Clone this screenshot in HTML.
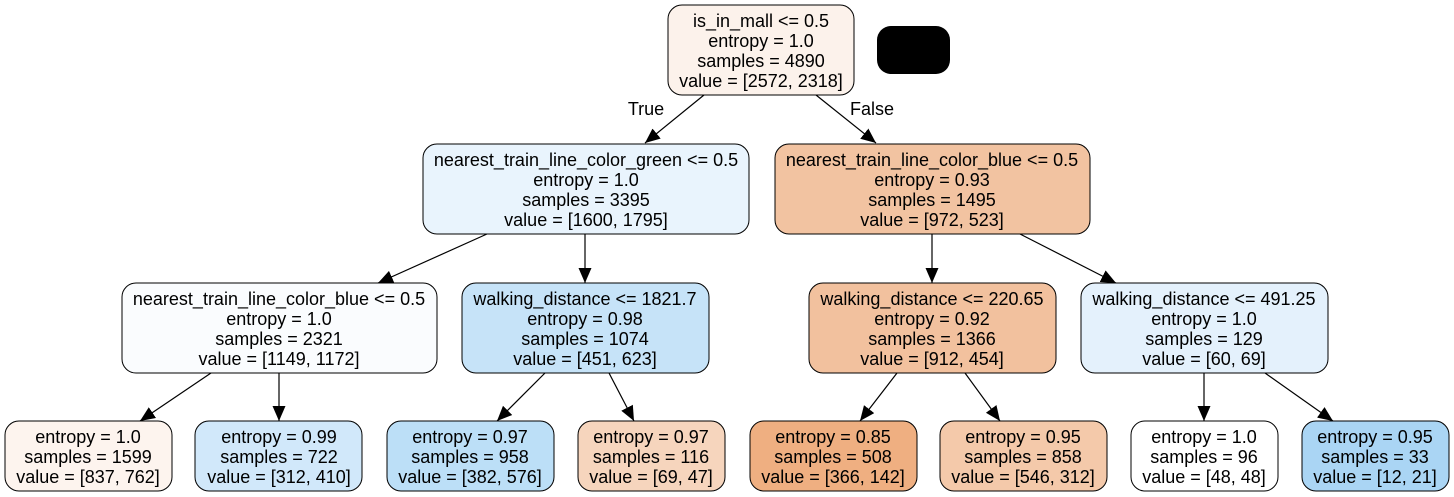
<!DOCTYPE html>
<html><head><meta charset="utf-8"><style>
html,body{margin:0;padding:0;background:#fff;}
svg{display:block;}
text{font-family:"Liberation Sans",Arial,sans-serif;font-size:18px;fill:#000;text-anchor:middle;}
.n{stroke:#000;stroke-width:1;}
.e{stroke:#000;stroke-width:1.2;fill:none;}
</style></head><body>
<svg width="1454" height="497" viewBox="0 0 1454 497" xmlns="http://www.w3.org/2000/svg">
<defs><marker id="a" markerWidth="16" markerHeight="14" refX="15" refY="6.5" orient="auto" markerUnits="userSpaceOnUse"><path d="M0,0 L15,6.5 L0,13 z" fill="#000"/></marker></defs>
<g class="e">
<line x1="704" y1="95" x2="645" y2="143" marker-end="url(#a)"/>
<line x1="816" y1="95" x2="876" y2="143" marker-end="url(#a)"/>
<line x1="487" y1="234" x2="378" y2="283" marker-end="url(#a)"/>
<line x1="585" y1="234" x2="585" y2="283" marker-end="url(#a)"/>
<line x1="932" y1="234" x2="932" y2="283" marker-end="url(#a)"/>
<line x1="1020" y1="234" x2="1116" y2="283" marker-end="url(#a)"/>
<line x1="211" y1="373" x2="140" y2="421" marker-end="url(#a)"/>
<line x1="279" y1="373" x2="279" y2="421" marker-end="url(#a)"/>
<line x1="545" y1="373" x2="497" y2="421" marker-end="url(#a)"/>
<line x1="609" y1="373" x2="634" y2="421" marker-end="url(#a)"/>
<line x1="897" y1="373" x2="860" y2="421" marker-end="url(#a)"/>
<line x1="965" y1="373" x2="1000" y2="421" marker-end="url(#a)"/>
<line x1="1204" y1="373" x2="1204" y2="421" marker-end="url(#a)"/>
<line x1="1265" y1="373" x2="1333" y2="421" marker-end="url(#a)"/>
</g>
<text x="646" y="115">True</text>
<text x="872" y="115">False</text>
<rect class="n" x="668" y="5" width="186" height="90" rx="14" fill="#fcf2eb"/>
<text x="761" y="27">is_in_mall &lt;= 0.5</text><text x="761" y="47">entropy = 1.0</text><text x="761" y="67">samples = 4890</text><text x="761" y="87">value = [2572, 2318]</text>
<rect x="877" y="26" width="73" height="48" rx="14" fill="#000"/>

<rect class="n" x="423" y="144" width="326" height="90" rx="14" fill="#e9f4fd"/>
<text x="586" y="166">nearest_train_line_color_green &lt;= 0.5</text><text x="586" y="186">entropy = 1.0</text><text x="586" y="206">samples = 3395</text><text x="586" y="226">value = [1600, 1795]</text>

<rect class="n" x="775" y="144" width="315" height="90" rx="14" fill="#f2c3a1"/>
<text x="932" y="166">nearest_train_line_color_blue &lt;= 0.5</text><text x="932" y="186">entropy = 0.93</text><text x="932" y="206">samples = 1495</text><text x="932" y="226">value = [972, 523]</text>

<rect class="n" x="122" y="283" width="315" height="90" rx="14" fill="#fafcfe"/>
<text x="279" y="305">nearest_train_line_color_blue &lt;= 0.5</text><text x="279" y="325">entropy = 1.0</text><text x="279" y="345">samples = 2321</text><text x="279" y="365">value = [1149, 1172]</text>

<rect class="n" x="462" y="283" width="247" height="90" rx="14" fill="#c6e3f8"/>
<text x="585" y="305">walking_distance &lt;= 1821.7</text><text x="585" y="325">entropy = 0.98</text><text x="585" y="345">samples = 1074</text><text x="585" y="365">value = [451, 623]</text>

<rect class="n" x="809" y="283" width="247" height="90" rx="14" fill="#f2c19e"/>
<text x="932" y="305">walking_distance &lt;= 220.65</text><text x="932" y="325">entropy = 0.92</text><text x="932" y="345">samples = 1366</text><text x="932" y="365">value = [912, 454]</text>

<rect class="n" x="1081" y="283" width="247" height="90" rx="14" fill="#e4f1fc"/>
<text x="1204" y="305">walking_distance &lt;= 491.25</text><text x="1204" y="325">entropy = 1.0</text><text x="1204" y="345">samples = 129</text><text x="1204" y="365">value = [60, 69]</text>

<rect class="n" x="5" y="421" width="167" height="70" rx="14" fill="#fdf4ee"/>
<text x="88" y="443">entropy = 1.0</text><text x="88" y="463">samples = 1599</text><text x="88" y="483">value = [837, 762]</text>
<rect class="n" x="195" y="421" width="167" height="70" rx="14" fill="#d1e8fa"/>
<text x="279" y="443">entropy = 0.99</text><text x="279" y="463">samples = 722</text><text x="279" y="483">value = [312, 410]</text>
<rect class="n" x="387" y="421" width="167" height="70" rx="14" fill="#bcdff7"/>
<text x="470" y="443">entropy = 0.97</text><text x="470" y="463">samples = 958</text><text x="470" y="483">value = [382, 576]</text>
<rect class="n" x="578" y="421" width="147" height="70" rx="14" fill="#f6d5bd"/>
<text x="651" y="443">entropy = 0.97</text><text x="651" y="463">samples = 116</text><text x="651" y="483">value = [69, 47]</text>
<rect class="n" x="750" y="421" width="167" height="70" rx="14" fill="#efaf81"/>
<text x="833" y="443">entropy = 0.85</text><text x="833" y="463">samples = 508</text><text x="833" y="483">value = [366, 142]</text>
<rect class="n" x="940" y="421" width="167" height="70" rx="14" fill="#f4c9aa"/>
<text x="1023" y="443">entropy = 0.95</text><text x="1023" y="463">samples = 858</text><text x="1023" y="483">value = [546, 312]</text>
<rect class="n" x="1131" y="421" width="147" height="70" rx="14" fill="#ffffff"/>
<text x="1204" y="443">entropy = 1.0</text><text x="1204" y="463">samples = 96</text><text x="1204" y="483">value = [48, 48]</text>
<rect class="n" x="1302" y="421" width="147" height="70" rx="14" fill="#aad5f4"/>
<text x="1375" y="443">entropy = 0.95</text><text x="1375" y="463">samples = 33</text><text x="1375" y="483">value = [12, 21]</text>
</svg>
</body></html>
